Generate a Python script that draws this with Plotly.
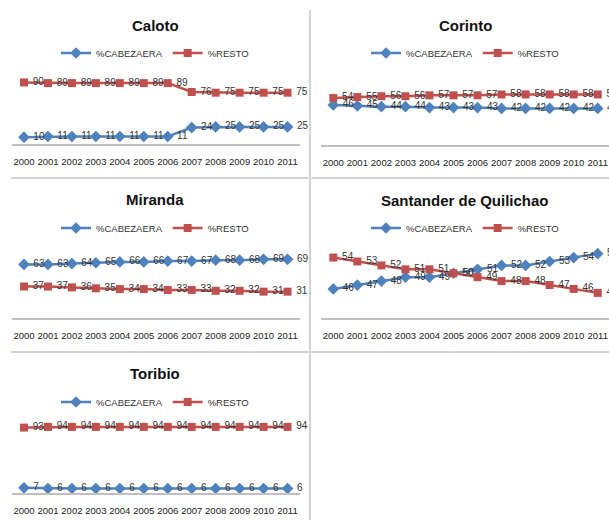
import plotly.graph_objects as go

years = ["2000", "2001", "2002", "2003", "2004", "2005", "2006", "2007", "2008", "2009", "2010", "2011"]

caloto_cab = [10, 11, 11, 11, 11, 11, 11, 24, 25, 25, 25, 25]
caloto_resto = [90, 89, 89, 89, 89, 89, 89, 76, 75, 75, 75, 75]

corinto_cab = [46, 45, 44, 44, 43, 43, 43, 42, 42, 42, 42, 42]
corinto_resto = [54, 55, 56, 56, 57, 57, 57, 58, 58, 58, 58, 58]

miranda_cab = [63, 63, 64, 65, 66, 66, 67, 67, 68, 68, 69, 69]
miranda_resto = [37, 37, 36, 35, 34, 34, 33, 33, 32, 32, 31, 31]

santander_cab = [46, 47, 48, 49, 49, 50, 51, 52, 52, 53, 54, 55]
santander_resto = [54, 53, 52, 51, 51, 50, 49, 48, 48, 47, 46, 45]

toribio_cab = [7, 6, 6, 6, 6, 6, 6, 6, 6, 6, 6, 6]
toribio_resto = [93, 94, 94, 94, 94, 94, 94, 94, 94, 94, 94, 94]

titles = ["Caloto", "Corinto", "Miranda", "Santander de Quilichao", "Toribio"]
series_names = ["%CABEZAERA", "%RESTO"]

panels = [
    (caloto_cab, caloto_resto),
    (corinto_cab, corinto_resto),
    (miranda_cab, miranda_resto),
    (santander_cab, santander_resto),
    (toribio_cab, toribio_resto),
]

W, H = 609, 520
FONT = "Liberation Sans"
BLUE = "#4F81BD"
RED = "#C0504D"


def px(x):
    return x / W


def py(y):
    return 1 - y / H


# layout geometry (pixels): x-domain, y top, y bottom, y range, title y, legend y, title x
geo = [
    dict(xd=(12, 299.5), yt=75.6, yb=144, yr=[0, 100], xr=[-0.5, 11.5], ty=25, ly=53, tx=155),
    dict(xd=(321.3, 609), yt=84, yb=145, yr=[0, 70], xr=[-0.5, 11.47], ty=25, ly=53, tx=465),
    dict(xd=(12, 299.5), yt=250, yb=318, yr=[0, 80], xr=[-0.5, 11.5], ty=200, ly=228, tx=155),
    dict(xd=(321.3, 609), yt=234, yb=318, yr=[38.6, 60], xr=[-0.5, 11.47], ty=201, ly=228, tx=465),
    dict(xd=(12, 299.5), yt=422.7, yb=492.7, yr=[0, 100], xr=[-0.5, 11.5], ty=373, ly=402, tx=155),
]

fig = go.Figure()
layout = dict(
    width=W, height=H,
    margin=dict(l=0, r=0, t=0, b=0, autoexpand=False),
    paper_bgcolor="white", plot_bgcolor="white",
    font=dict(family=FONT, color="#222"),
    showlegend=True,
)
annotations = []
shapes = []

for i, ((cab, resto), g) in enumerate(zip(panels, geo)):
    n = "" if i == 0 else str(i + 1)
    xa, ya = "x" + n, "y" + n
    leg = "legend" + n
    for vals, name, color, sym, size in [
        (cab, series_names[0], BLUE, "diamond", 9),
        (resto, series_names[1], RED, "square", 8),
    ]:
        fig.add_trace(go.Scatter(
            x=list(range(len(years))), y=vals, name=name,
            mode="lines+markers+text",
            text=[" " + str(v) for v in vals], textposition="middle right",
            textfont=dict(size=10, color="#333", family=FONT),
            line=dict(color=color, width=2.5),
            marker=dict(symbol=sym, size=size, color=color),
            xaxis=xa, yaxis=ya, legend=leg, cliponaxis=False,
        ))
    layout["xaxis" + n] = dict(
        domain=[px(g["xd"][0]), px(g["xd"][1])], anchor=ya,
        range=g["xr"], tickmode="array", tickvals=list(range(len(years))), ticktext=years,
        showgrid=False, zeroline=False, showline=True, linecolor="#bfbfbf", linewidth=2,
        ticks="", tickfont=dict(size=9.5, color="#222", family=FONT), ticklabelstandoff=8,
        fixedrange=True,
    )
    layout["yaxis" + n] = dict(
        domain=[py(g["yb"]), py(g["yt"])], anchor=xa, range=g["yr"],
        showgrid=False, zeroline=False, showline=False, showticklabels=False, ticks="",
        fixedrange=True,
    )
    layout[leg] = dict(
        orientation="h", x=px(g["tx"]), y=py(g["ly"]), xanchor="center", yanchor="middle",
        font=dict(size=9.5, color="#333", family=FONT), bgcolor="rgba(0,0,0,0)",
        itemwidth=30, tracegroupgap=0,
    )
    annotations.append(dict(
        text="<b>" + titles[i] + "</b>", x=px(g["tx"]), y=py(g["ty"]), xref="paper", yref="paper",
        showarrow=False, xanchor="center", yanchor="middle",
        font=dict(size=15, color="#111", family=FONT),
    ))

# panel borders
border = dict(type="line", xref="paper", yref="paper", line=dict(color="#c4c4c4", width=1.5))
shapes.append({**border, "x0": px(310), "x1": px(310), "y0": py(10), "y1": py(520)})
for yy in (178, 352):
    shapes.append({**border, "x0": px(11), "x1": px(308.5), "y0": py(yy), "y1": py(yy)})
    shapes.append({**border, "x0": px(311.5), "x1": 1, "y0": py(yy), "y1": py(yy)})

layout["annotations"] = annotations
layout["shapes"] = shapes
fig.update_layout(**layout)
fig.write_html(
    "out.html",
    config={"displayModeBar": False},
    post_script="document.body.style.margin='0';document.body.style.overflow='hidden';",
)
